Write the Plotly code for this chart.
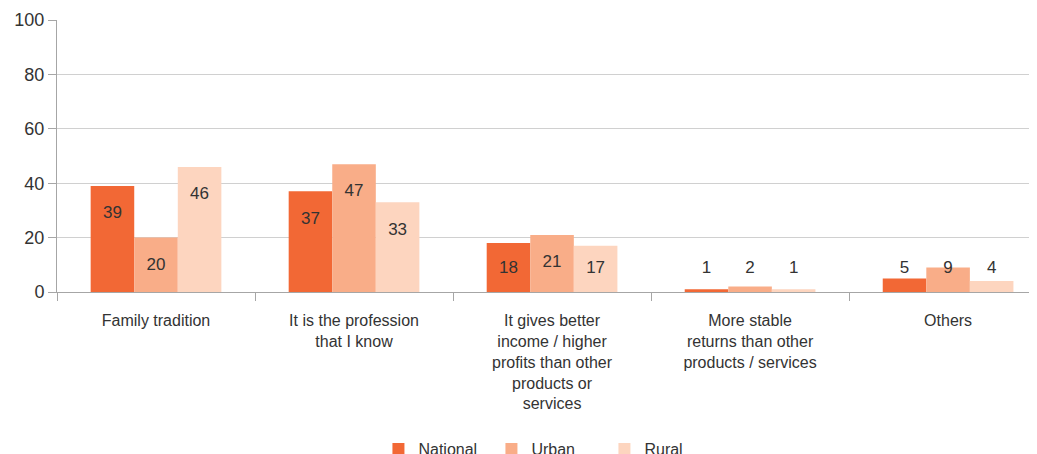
import plotly.graph_objects as go

categories = [
    "Family tradition",
    "It is the profession<br>that I know",
    "It gives better<br>income / higher<br>profits than other<br>products or<br>services",
    "More stable<br>returns than other<br>products / services",
    "Others",
]
national = [39, 37, 18, 1, 5]
urban = [20, 47, 21, 2, 9]
rural = [46, 33, 17, 1, 4]

series = [
    ("National", national, "#F26835"),
    ("Urban", urban, "#F9AD88"),
    ("Rural", rural, "#FDD5BF"),
]

fig = go.Figure()
for name, vals, color in series:
    fig.add_trace(go.Bar(
        x=categories,
        y=vals,
        name=name,
        offsetgroup=name,
        marker=dict(color=color, line=dict(width=0)),
    ))

# value labels: a bit below the bar top, but never lower than a floor
for name, vals, color in series:
    fig.add_trace(go.Scatter(
        x=categories,
        y=[max(v - 10.3, 8.6) for v in vals],
        mode="text",
        text=[str(v) for v in vals],
        textposition="middle center",
        textfont=dict(size=17, color="#333333"),
        offsetgroup=name,
        showlegend=False,
        hoverinfo="skip",
        cliponaxis=False,
    ))

fig.update_layout(
    width=1029,
    height=446,
    barmode="group",
    bargap=0.34,
    bargroupgap=0,
    scattermode="group",
    scattergap=0.34,
    plot_bgcolor="white",
    paper_bgcolor="white",
    font=dict(family="Liberation Sans, Arial, sans-serif", size=16, color="#333333"),
    margin=dict(l=49, r=0, t=12, b=162, autoexpand=False),
    legend=dict(
        orientation="h",
        x=0.328, xanchor="left",
        y=-0.515, yanchor="top",
        font=dict(size=16, color="#333333"),
        itemwidth=30,
        entrywidth=68,
        traceorder="normal",
    ),
)

fig.update_xaxes(
    range=[-0.5, 4.449],
    automargin=False,
    showline=True,
    linecolor="#a6a6a6",
    linewidth=1,
    ticks="outside",
    tickson="boundaries",
    ticklen=8,
    tickcolor="#a6a6a6",
    showgrid=False,
    ticklabelstandoff=14,
    tickfont=dict(size=16, color="#333333"),
)
fig.update_yaxes(
    range=[0, 100],
    dtick=20,
    automargin=False,
    showline=True,
    linecolor="#a6a6a6",
    linewidth=1,
    ticks="outside",
    ticklen=8,
    tickcolor="#a6a6a6",
    gridcolor="#d0d0d0",
    gridwidth=1,
    zeroline=False,
    tickfont=dict(size=18, color="#333333"),
)

fig.write_html("out.html")
